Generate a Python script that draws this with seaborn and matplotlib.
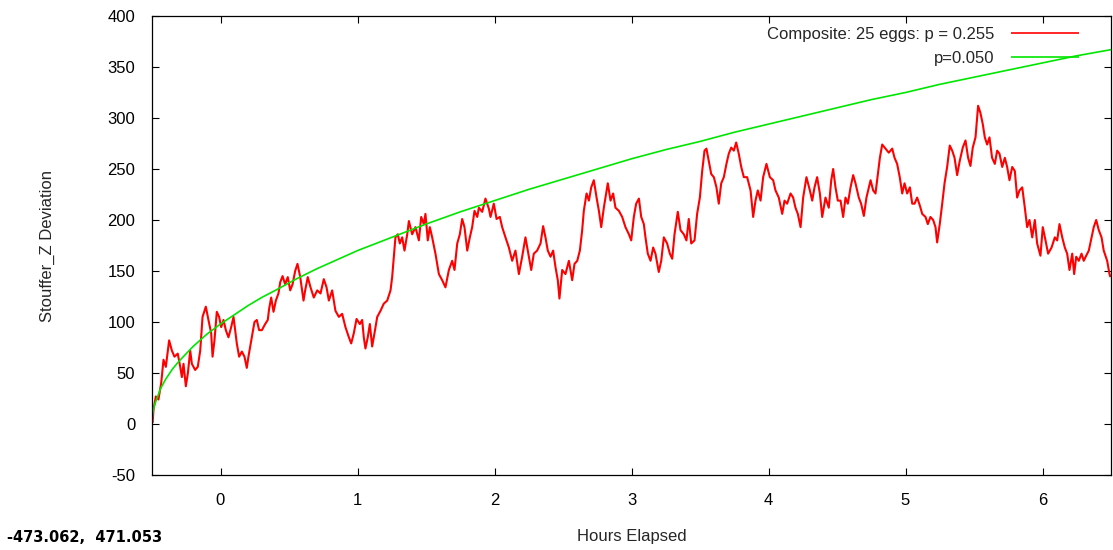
import matplotlib
matplotlib.use("Agg")
import matplotlib.pyplot as plt
import seaborn as sns
import pandas as pd

# ---- data ----
red_hours = [
    -0.496, -0.489, -0.472, -0.453, -0.433, -0.416, -0.399, -0.375, -0.355, -0.336,
    -0.312, -0.294, -0.282, -0.270, -0.253, -0.238, -0.221, -0.209, -0.185, -0.166,
    -0.148, -0.131, -0.107, -0.088, -0.068, -0.058, -0.044, -0.027, -0.010, 0.005,
    0.022, 0.039, 0.058, 0.078, 0.095, 0.107, 0.119, 0.136, 0.156, 0.175,
    0.192, 0.204, 0.229, 0.248, 0.265, 0.282, 0.302, 0.326, 0.345, 0.355,
    0.370, 0.387, 0.404, 0.423, 0.436, 0.453, 0.472, 0.491, 0.509, 0.526,
    0.545, 0.562, 0.582, 0.606, 0.618, 0.637,
    0.657, 0.681, 0.706, 0.730, 0.754, 0.774, 0.791, 0.815, 0.839, 0.864,
    0.888, 0.912, 0.937, 0.954, 0.973, 0.993, 1.017, 1.034, 1.046, 1.058,
    1.075, 1.090, 1.107, 1.124, 1.144, 1.168, 1.192, 1.217, 1.241, 1.253,
    1.265, 1.277, 1.294, 1.309, 1.326, 1.343, 1.363, 1.375, 1.399, 1.423,
    1.448, 1.465, 1.484, 1.496, 1.513, 1.528, 1.545, 1.569, 1.594, 1.618,
    1.642, 1.667, 1.691, 1.708, 1.728, 1.747, 1.764, 1.781, 1.801, 1.820,
    1.837, 1.854, 1.874, 1.886,
    1.910, 1.934, 1.959, 1.971, 1.995, 2.015, 2.039, 2.056, 2.080, 2.105,
    2.129, 2.153, 2.178, 2.202, 2.226, 2.243, 2.268, 2.287, 2.311, 2.336,
    2.355, 2.372, 2.389, 2.409, 2.428, 2.445, 2.462, 2.474, 2.494, 2.518,
    2.543, 2.567, 2.584, 2.604, 2.623, 2.640, 2.652, 2.672, 2.689, 2.706,
    2.725, 2.745, 2.762, 2.779, 2.798, 2.827, 2.847, 2.866, 2.883, 2.908,
    2.932, 2.956, 2.981, 2.998, 3.017, 3.034,
    3.054, 3.071, 3.090, 3.102, 3.119, 3.139, 3.158, 3.175, 3.199, 3.217,
    3.236, 3.260, 3.280, 3.297, 3.314, 3.338, 3.358, 3.382, 3.401, 3.418,
    3.436, 3.460, 3.479, 3.499, 3.516, 3.533, 3.547, 3.564, 3.582, 3.601,
    3.620, 3.637, 3.655, 3.674, 3.693, 3.710, 3.728, 3.747, 3.764, 3.783,
    3.801, 3.820, 3.844, 3.869, 3.888, 3.905, 3.922, 3.942, 3.961, 3.985,
    4.010, 4.034, 4.051, 4.075, 4.100, 4.117, 4.136, 4.161,
    4.180, 4.197, 4.214, 4.234, 4.253, 4.277, 4.302, 4.319, 4.336, 4.355,
    4.375, 4.392, 4.416, 4.440, 4.458, 4.472, 4.489, 4.506, 4.526, 4.545,
    4.562, 4.579, 4.599, 4.618, 4.635, 4.659, 4.676, 4.696, 4.715, 4.745,
    4.764, 4.781, 4.798, 4.813, 4.830, 4.854, 4.878, 4.903, 4.920, 4.939,
    4.958, 4.976, 4.993, 5.012, 5.032, 5.049, 5.066, 5.085, 5.105, 5.122,
    5.146, 5.163, 5.182, 5.202, 5.219, 5.231, 5.250, 5.268, 5.285, 5.304,
    5.323, 5.341, 5.358, 5.377, 5.396,
    5.401, 5.418, 5.438, 5.457, 5.474, 5.491, 5.511, 5.523, 5.530, 5.547,
    5.564, 5.579, 5.596, 5.613, 5.632, 5.652, 5.669, 5.686, 5.706, 5.725,
    5.742, 5.759, 5.779, 5.798, 5.815, 5.832, 5.852, 5.871, 5.888, 5.905,
    5.925, 5.944, 5.961, 5.985, 6.002, 6.022, 6.041, 6.066, 6.090, 6.107,
    6.124, 6.144, 6.163, 6.180, 6.197, 6.217, 6.231, 6.246, 6.265, 6.285,
    6.301, 6.319, 6.338, 6.358, 6.374, 6.392, 6.411, 6.431, 6.447, 6.472,
    6.489, 6.496,
]
red_values = [
    1, 14, 27, 24, 40, 63, 56, 82, 72, 66,
    69, 56, 46, 59, 37, 50, 72, 59, 53, 56,
    72, 105, 115, 102, 89, 66, 82, 110, 105, 95,
    102, 92, 85, 95, 105, 92, 79, 66, 71, 66,
    55, 66, 85, 100, 102, 92, 92, 98, 102, 113,
    124, 110, 121, 128, 139, 145, 137, 144, 131, 137,
    150, 157, 144, 121, 131, 144,
    134, 124, 131, 128, 142, 134, 121, 131, 111, 105,
    108, 95, 85, 79, 89, 103, 98, 102, 85, 74,
    85, 98, 76, 89, 105, 111, 118, 121, 131, 144,
    164, 183, 186, 177, 183, 170, 186, 199, 186, 193,
    180, 203, 196, 206, 180, 193, 183, 167, 147, 141,
    134, 151, 160, 151, 177, 186, 201, 193, 170, 183,
    193, 209, 203, 212,
    208, 221, 211, 203, 216, 201, 203, 193, 183, 173,
    160, 170, 147, 164, 183, 170, 151, 167, 170, 177,
    194, 183, 170, 164, 170, 154, 141, 123, 151, 147,
    160, 141, 157, 160, 170, 190, 209, 226, 219, 232,
    239, 222, 209, 193, 212, 236, 219, 226, 212, 209,
    203, 193, 186, 180, 203, 216,
    221, 203, 196, 183, 167, 160, 173, 167, 149, 160,
    183, 177, 167, 162, 186, 208, 190, 186, 180, 201,
    177, 180, 206, 222, 248, 268, 270, 258, 245, 242,
    232, 216, 236, 242, 255, 265, 271, 268, 276, 265,
    252, 242, 242, 229, 203, 219, 229, 219, 242, 255,
    242, 239, 229, 222, 206, 219, 216, 226,
    222, 212, 206, 193, 222, 242, 229, 219, 232, 242,
    226, 203, 222, 212, 239, 250, 232, 219, 219, 203,
    222, 216, 232, 244, 236, 222, 216, 204, 222, 239,
    229, 226, 245, 261, 274, 270, 266, 270, 261, 255,
    242, 226, 236, 226, 232, 216, 216, 222, 214, 206,
    203, 196, 203, 200, 193, 178, 196, 216, 236, 252,
    273, 268, 261, 244, 258,
    261, 271, 278, 261, 253, 271, 281, 300, 312, 305,
    294, 281, 274, 281, 261, 255, 268, 265, 252, 261,
    252, 239, 252, 248, 222, 229, 232, 212, 193, 200,
    183, 200, 177, 165, 193, 180, 167, 173, 183, 180,
    196, 183, 173, 167, 151, 167, 147, 164, 160, 167,
    160, 165, 170, 183, 193, 200, 190, 183, 170, 160,
    147, 144,
]
green_hours = [-0.5, -0.49, -0.48, -0.47, -0.45, -0.44, -0.42, -0.40, -0.37, -0.35,
               -0.30, -0.25, -0.20, -0.15, -0.10, -0.05, 0.0, 0.1, 0.2, 0.3,
               0.4, 0.55, 0.7, 0.85, 1.0, 1.25, 1.5, 1.75, 2.0, 2.25,
               2.5, 2.75, 3.0, 3.25, 3.5, 3.75, 4.0, 4.25, 4.5, 4.75,
               5.0, 5.25, 5.5, 5.75, 6.0, 6.25, 6.5]
green_values = [5, 14, 19, 23, 30, 34, 39, 44, 50, 54,
                62, 69, 76, 82, 88, 93, 98, 107, 116, 124,
                131, 142, 152, 161, 170, 183, 196, 208, 219, 230,
                240, 250, 260, 269, 277, 286, 294, 302, 310, 318,
                325, 333, 340, 347, 354, 361, 367]

red_label = "Composite: 25 eggs: p = 0.255"
green_label = "p=0.050"
x_ticks = [0, 1, 2, 3, 4, 5, 6]
y_ticks = [-50, 0, 50, 100, 150, 200, 250, 300, 350, 400]
coord_text = "-473.062,  471.053"

# ---- style ----
sns.set_theme(style="ticks")
plt.rcParams["font.family"] = ["Liberation Sans", "DejaVu Sans"]
plt.rcParams["axes.edgecolor"] = "black"
plt.rcParams["axes.linewidth"] = 0.9
plt.rcParams["axes.unicode_minus"] = False

FS = 12
W, H = 1113, 550
fig = plt.figure(figsize=(W / 100, H / 100), dpi=100)
L, R, T, B = 152, 1111, 16, 475
ax = fig.add_axes([L / W, (H - B) / H, (R - L) / W, (B - T) / H])

red_df = pd.DataFrame({"hours": red_hours, "dev": red_values})
green_df = pd.DataFrame({"hours": green_hours, "dev": green_values})

sns.lineplot(data=red_df, x="hours", y="dev", ax=ax, color="#ff0000", lw=1.5,
             label=red_label, estimator=None, sort=False)
sns.lineplot(data=green_df, x="hours", y="dev", ax=ax, color="#00e600", lw=1.2,
             label=green_label, estimator=None, sort=False)

ax.set_xlim(-0.5, 6.5)
ax.set_ylim(-50, 400)
ax.set_xticks(x_ticks)
ax.set_yticks(y_ticks)
ax.tick_params(direction="in", top=True, right=True, length=5, width=0.8,
               labelsize=FS, colors="black")
ax.tick_params(axis="x", pad=13)
ax.tick_params(axis="y", pad=12)
for s in ax.spines.values():
    s.set_visible(True)
    s.set_color("black")

ax.set_xlabel("Hours Elapsed", fontsize=FS)
ax.set_ylabel("Stouffer_Z Deviation", fontsize=FS)
ax.xaxis.set_label_coords(0.5, (B - 529) / (B - T))
ax.yaxis.set_label_coords((55 - L) / (R - L), 0.5)

for line in ax.get_lines():
    line.set_solid_capstyle("butt")

leg = ax.legend(loc="upper right", bbox_to_anchor=((1086 - L) / (R - L), (B - 20) / (B - T)),
                borderaxespad=0, frameon=False, markerfirst=False, fontsize=FS,
                handlelength=4.1, handletextpad=1.0, labelspacing=0.55)
for h in leg.get_lines():
    h.set_linewidth(1.2)

fig.text(7 / W, 1 - 537 / H, coord_text, fontsize=10.5, fontweight="bold",
         family="DejaVu Sans", va="center", ha="left", color="black")

fig.savefig("out.png", dpi=100)
